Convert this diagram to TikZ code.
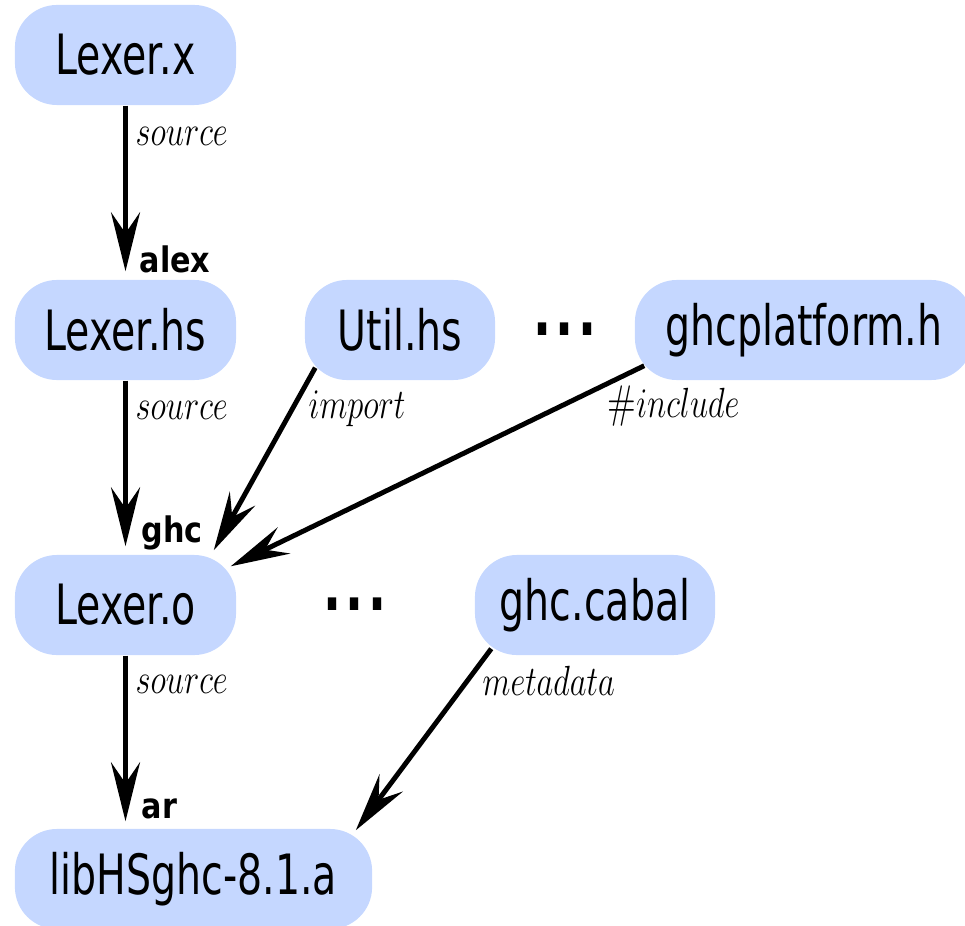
\documentclass[tikz,border=0pt]{standalone}
\usepackage{fontspec}
\usepackage{graphicx}
\usetikzlibrary{arrows.meta}

\newfontfamily\nodefont[FakeStretch=0.71]{DejaVu Sans}
\newfontfamily\tagfont[FakeStretch=0.86]{DejaVu Sans}
\definecolor{filebg}{RGB}{197,215,255}
\newcommand\edgetext[1]{\scalebox{0.77}[1]{$#1$}}
\newcommand\moredots{\textbf{.\kern1.2pt.\kern1.2pt.}}

\tikzset{
  file/.style={fill=filebg, rounded corners=0.42cm, minimum height=1cm, inner sep=0pt,
    font=\nodefont\fontsize{15.8}{18}\selectfont},
  dep/.style={line width=1.4pt, -{Stealth[length=0.59cm, width=0.29cm, inset=0.21cm]}},
  elab/.style={anchor=base west, inner sep=0pt, font=\fontsize{13}{15}\selectfont},
  tool/.style={anchor=base west, inner sep=0pt, font=\tagfont\bfseries\fontsize{10}{12}\selectfont},
}

\begin{document}
\begin{tikzpicture}[x=0.01cm, y=-0.01cm]
    \useasboundingbox (0,0) rectangle (965,925);

    % Files
    \node[file, minimum width=2.21cm] (lexx) at (125.5,55) {Lexer.x};
    \node[file, minimum width=2.21cm] (lexhs) at (125.5,330) {Lexer.hs};
    \node[file, minimum width=1.90cm] (util) at (400,330) {Util.hs};
    \node[file, minimum width=3.38cm] (ghcplat) at (804,330) {ghcplatform.h};
    \node[file, minimum width=2.21cm] (lexo) at (125.5,605) {Lexer.o};
    \node[file, minimum width=2.40cm] (cabal) at (595,605) {ghc.cabal};
    \node[file, minimum width=3.57cm] (libhs) at (193.5,879) {libHSghc-8.1.a};

    % More files
    \node[inner sep=0pt, font=\nodefont\fontsize{19}{20}\selectfont] (moreA) at (565,329) {\moredots};
    \node[inner sep=0pt, font=\nodefont\fontsize{19}{20}\selectfont] (moreB) at (355,604) {\moredots};

    % Build steps
    \draw[dep, shorten >=0.08cm] (lexx) -- (lexhs);
    \draw[dep, shorten >=0.08cm] (lexhs) -- (lexo);
    \draw[dep, shorten >=0.07cm] (lexo.south) -- (lexo.south |- libhs.north);
    \draw[dep] ([xshift=0.11cm, yshift=0.13cm]util.south west) -- ([xshift=-0.23cm, yshift=0.04cm]lexo.north east);
    \draw[dep] ([xshift=0.10cm, yshift=0.15cm]ghcplat.south west) -- ([xshift=-0.06cm, yshift=-0.12cm]lexo.north east);
    \draw[dep] ([xshift=0.17cm, yshift=0.07cm]cabal.south west) -- ([xshift=-0.17cm, yshift=-0.02cm]libhs.north east);

    % Edge kinds
    \node[elab] (srcA) at (135,146) {\edgetext{source}};
    \node[elab] (srcB) at (135,419) {\edgetext{source}};
    \node[elab] (srcC) at (135,693) {\edgetext{source}};
    \node[elab] (imp) at (308,418) {\edgetext{import}};
    \node[elab] (incl) at (607,417) {\edgetext{\#include}};
    \node[elab] (meta) at (482,695) {\edgetext{metadata}};

    % Tools
    \node[tool] (alex) at (139,273) {alex};
    \node[tool] (ghc) at (141,542) {ghc};
    \node[tool] (ar) at (141,818) {ar};
\end{tikzpicture}
\end{document}
